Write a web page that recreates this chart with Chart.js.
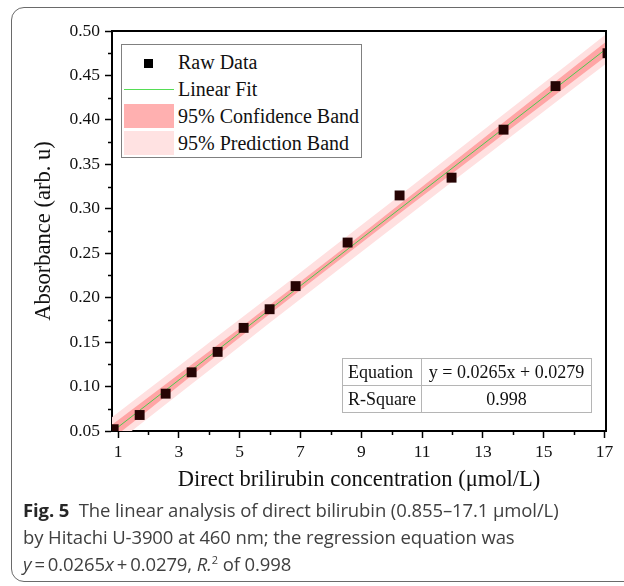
<!DOCTYPE html>
<html>
<head>
<meta charset="utf-8">
<script src="https://cdn.jsdelivr.net/npm/chart.js@4/dist/chart.umd.min.js"></script>
<style>
  html, body { margin: 0; padding: 0; background: #fff; }
  #wrap { position: relative; width: 624px; height: 586px; overflow: hidden; }
  #frame {
    position: absolute; left: 11px; top: 7px; width: 640px; height: 575px;
    border: 1px solid #6a6a6a; border-radius: 13px; box-sizing: border-box;
  }
  #chart { position: absolute; left: 0; top: 0; }
  .legend {
    position: absolute; left: 121px; top: 44px; width: 241px; height: 114px;
    border: 1px solid #808080; background: #fff; box-sizing: border-box;
    font-family: "Liberation Serif", serif; font-size: 20px; color: #111;
  }
  .legend .row { position: absolute; left: 0; height: 27px; width: 100%; }
  .legend .label { position: absolute; left: 56px; top: 2px; white-space: nowrap; }
  .legend .sym { position: absolute; left: 2px; width: 50px; }
  .fit-table {
    position: absolute; left: 342px; top: 358px; border-collapse: collapse;
    font-family: "Liberation Serif", serif; font-size: 18px; color: #111;
    border: 1.5px solid #555;
  }
  .fit-table td { border: 1px solid #b5b5b5; height: 26px; padding: 0 5px; white-space: nowrap; }
  .fit-table td.name { width: 66px; }
  .fit-table td.val { width: 159px; text-align: center; }
  .caption {
    position: absolute; left: 23px; top: 496px;
    font-family: "Open Sans", sans-serif; font-size: 18.5px; letter-spacing: -0.1px;
    line-height: 27px; color: #404040; white-space: nowrap;
  }
  .caption b { color: #262626; }
  .caption sup { font-size: 11px; vertical-align: 7px; line-height: 0; }
</style>
</head>
<body>
<div id="wrap">
  <div id="frame"></div>
  <canvas id="chart" width="624" height="500"></canvas>

  <div class="legend">
    <div class="row" style="top:4px">
      <div class="sym" style="top:10px;left:22px;width:9px;height:9px;background:#000"></div>
      <div class="label">Raw Data</div>
    </div>
    <div class="row" style="top:31px">
      <div class="sym" style="top:13px;height:1px;background:#55dd55"></div>
      <div class="label">Linear Fit</div>
    </div>
    <div class="row" style="top:58px">
      <div class="sym" style="top:1px;height:24px;background:#ffb0b0"></div>
      <div class="label">95% Confidence Band</div>
    </div>
    <div class="row" style="top:85px">
      <div class="sym" style="top:1px;height:24px;background:#ffe2e2"></div>
      <div class="label">95% Prediction Band</div>
    </div>
  </div>

  <table class="fit-table">
    <tr><td class="name">Equation</td><td class="val">y = 0.0265x + 0.0279</td></tr>
    <tr><td class="name">R-Square</td><td class="val">0.998</td></tr>
  </table>

  <div class="caption">
    <b>Fig. 5</b>&nbsp; The linear analysis of direct bilirubin (0.855–17.1 μmol/L)<br>
    by Hitachi U-3900 at 460 nm; the regression equation was<br>
    <i>y</i>&#8201;=&#8201;0.0265<i>x</i>&#8201;+&#8201;0.0279, <i>R.</i><sup>2</sup> of 0.998
  </div>
</div>

<script>
// measured points
const concentration = [0.855, 1.71, 2.565, 3.42, 4.275, 5.13, 5.985, 6.84, 8.55, 10.26, 11.97, 13.68, 15.39, 17.1];
const absorbance = [0.052, 0.068, 0.092, 0.116, 0.139, 0.166, 0.187, 0.213, 0.262, 0.315, 0.335, 0.389, 0.438, 0.475];

// regression y = slope * x + intercept
const slope = 0.0265;
const intercept = 0.0279;

// band half-widths (absorbance units) sampled along x
const bandX = [0.8, 3, 5, 7, 9, 11, 13, 15, 17.05];
const confHalf = [0.0080, 0.0064, 0.0053, 0.0047, 0.0048, 0.0054, 0.0063, 0.0073, 0.0082];
const predHalf = [0.0165, 0.0157, 0.0152, 0.0150, 0.0150, 0.0152, 0.0156, 0.0161, 0.0167];

// axes
const xTicks = [1, 3, 5, 7, 9, 11, 13, 15, 17];
const xMinor = [2, 4, 6, 8, 10, 12, 14, 16];
const yTicks = [0.05, 0.10, 0.15, 0.20, 0.25, 0.30, 0.35, 0.40, 0.45, 0.50];
const yMinor = [0.075, 0.125, 0.175, 0.225, 0.275, 0.325, 0.375, 0.425, 0.475];

const fitAt = (x) => slope * x + intercept;
const band = (half, sign) => bandX.map((x, i) => ({ x, y: fitAt(x) + sign * half[i] }));
const toXY = (xs, ys) => xs.map((x, i) => ({ x, y: ys[i] }));

function bandDataset(data, color, fill) {
  return {
    data,
    borderWidth: 0,
    borderColor: 'rgba(0,0,0,0)',
    backgroundColor: color,
    pointRadius: 0,
    cubicInterpolationMode: 'monotone',
    fill
  };
}

// minor ticks plus the closing top/right frame lines
const frameAndMinorTicks = {
  id: 'frameAndMinorTicks',
  afterDraw(chart) {
    const { ctx, chartArea: a, scales } = chart;
    ctx.save();
    ctx.strokeStyle = '#000';
    ctx.lineWidth = 1.5;
    ctx.beginPath();
    xMinor.forEach((v) => {
      const px = Math.round(scales.x.getPixelForValue(v)) + 0.5;
      ctx.moveTo(px, a.bottom);
      ctx.lineTo(px, a.bottom + 4);
    });
    yMinor.forEach((v) => {
      const py = Math.round(scales.y.getPixelForValue(v)) + 0.5;
      ctx.moveTo(a.left, py);
      ctx.lineTo(a.left - 4, py);
    });
    ctx.stroke();
    ctx.lineWidth = 2;
    ctx.beginPath();
    ctx.moveTo(a.left, a.top);
    ctx.lineTo(a.right, a.top);
    ctx.lineTo(a.right, a.bottom);
    ctx.stroke();
    ctx.restore();
  }
};

const serif = { family: '"Liberation Serif", serif' };

new Chart(document.getElementById('chart'), {
  type: 'line',
  data: {
    datasets: [
      {
        label: 'Raw Data',
        data: toXY(concentration, absorbance),
        showLine: false,
        pointStyle: 'rect',
        pointRadius: 7,
        pointBorderWidth: 0,
        pointBackgroundColor: '#260404',
        pointBorderColor: '#260404'
      },
      {
        label: 'Linear Fit',
        data: [bandX[0], bandX[bandX.length - 1]].map((x) => ({ x, y: fitAt(x) })),
        borderColor: '#4fc84f',
        borderWidth: 1,
        pointRadius: 0,
        fill: false
      },
      bandDataset(band(confHalf, 1), 'rgb(255,165,165)', '+1'),
      bandDataset(band(confHalf, -1), 'rgb(255,165,165)', false),
      bandDataset(band(predHalf, 1), 'rgb(255,224,224)', '+1'),
      bandDataset(band(predHalf, -1), 'rgb(255,224,224)', false)
    ]
  },
  options: {
    responsive: false,
    animation: false,
    layout: { padding: { left: 0, right: 18, top: 31, bottom: 0 } },
    plugins: {
      legend: { display: false },
      tooltip: { enabled: false }
    },
    scales: {
      x: {
        type: 'linear',
        min: 0.8,
        max: 17.05,
        afterFit: (scale) => { scale.height = 69; },
        afterBuildTicks: (scale) => { scale.ticks = xTicks.map((value) => ({ value })); },
        border: { color: '#000', width: 2 },
        grid: { drawOnChartArea: false, tickLength: 7, tickColor: '#000', tickWidth: 1.5 },
        ticks: { color: '#111', padding: 4, font: { ...serif, size: 17.5 }, maxRotation: 0 },
        title: {
          display: true,
          text: 'Direct brilirubin concentration (μmol/L)',
          color: '#111',
          font: { ...serif, size: 22.5 },
          padding: { top: 0, bottom: 6 }
        }
      },
      y: {
        min: 0.05,
        max: 0.5,
        afterFit: (scale) => { scale.width = 112; },
        afterBuildTicks: (scale) => { scale.ticks = yTicks.map((value) => ({ value })); },
        border: { color: '#000', width: 2 },
        grid: { drawOnChartArea: false, tickLength: 7, tickColor: '#000', tickWidth: 1.5 },
        ticks: {
          color: '#111',
          padding: 5,
          font: { ...serif, size: 17.5 },
          callback: (v) => Number(v).toFixed(2)
        },
        title: {
          display: true,
          text: 'Absorbance (arb. u)',
          color: '#111',
          font: { ...serif, size: 22.5 },
          padding: { top: 31, bottom: 0 }
        }
      }
    }
  },
  plugins: [frameAndMinorTicks]
});
</script>
</body>
</html>
